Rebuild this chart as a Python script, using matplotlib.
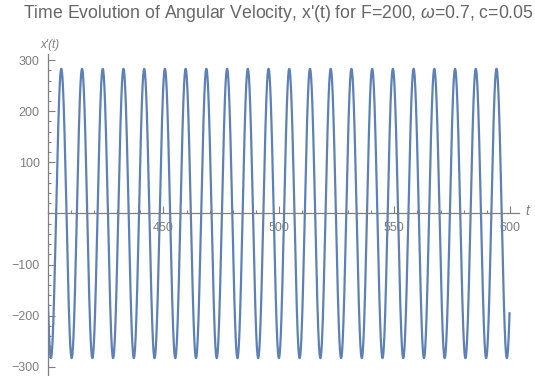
import numpy as np
import matplotlib.pyplot as plt
from matplotlib.ticker import MultipleLocator, FixedLocator

# =============================================================================
# Données
# =============================================================================
t_start, t_end = 400.0, 599.9      # plage de temps tracée
omega = 0.7                       # pulsation (titre)
amplitude = 283.0
t_peak = 405.76                   # instant d'une crête

x_ticks = [450, 500, 550, 600]
y_ticks = [-300, -200, -100, 100, 200, 300]
y_labels = ["\u2212300", "\u2212200", "\u2212100", "100", "200", "300"]

title = "Time Evolution of Angular Velocity, x'(t) for F=200, $\\omega$=0.7, c=0.05"

# courbe de la solution
t = np.linspace(t_start, t_end, 4000)
v = amplitude * np.cos(omega * (t - t_peak))

# =============================================================================
# Figure
# =============================================================================
plt.rcParams["font.family"] = ["Liberation Sans", "DejaVu Sans"]
plt.rcParams["mathtext.fontset"] = "custom"
plt.rcParams["mathtext.it"] = "Liberation Sans:italic"

grey = "#7f7f7f"
fig = plt.figure(figsize=(5.35, 3.76), dpi=100)
ax = fig.add_axes([48 / 535, 0.0, (519 - 48) / 535, 322 / 376])

ax.plot(t, v, color="#5E81B5", lw=1.6)

ax.set_xlim(400, 604)
ax.set_ylim(-318, 312)

ax.spines["top"].set_visible(False)
ax.spines["right"].set_visible(False)
ax.spines["left"].set_position(("data", 400))
ax.spines["bottom"].set_position(("data", 0))
for s in ("left", "bottom"):
    ax.spines[s].set_color(grey)
    ax.spines[s].set_linewidth(0.9)

ax.xaxis.set_major_locator(FixedLocator(x_ticks))
ax.xaxis.set_minor_locator(MultipleLocator(10))
ax.yaxis.set_major_locator(FixedLocator(y_ticks))
ax.yaxis.set_minor_locator(MultipleLocator(20))
ax.set_yticklabels(y_labels)

ax.tick_params(which="both", direction="in", color=grey, width=0.8)
ax.tick_params(which="major", length=5, labelsize=9, labelcolor=grey)
ax.tick_params(which="minor", length=2.5)
ax.tick_params(axis="x", pad=6)
ax.tick_params(axis="y", pad=6)

# étiquettes des axes façon Mathematica
fig.text(40 / 535, 1 - 45 / 376, "x\u2032(t)", style="italic", color=grey,
         fontsize=8.5, ha="left", va="center")
fig.text(527 / 535, 1 - 211 / 376, "t", style="italic", color=grey,
         fontsize=10, ha="center", va="center")

fig.text(278 / 535, 1 - 14 / 376, title, color="#666666", fontsize=12.7,
         ha="center", va="center")

fig.savefig("out.png", dpi=100)
